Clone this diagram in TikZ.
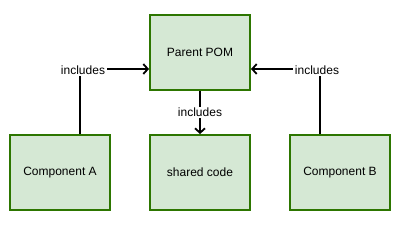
\documentclass[tikz,border=0pt]{standalone}
\usepackage{fontspec}
\setmainfont{Liberation Sans}
\usepackage{xcolor}
\usetikzlibrary{arrows.meta, positioning}
\definecolor{boxfill}{HTML}{D5E8D4}
\definecolor{boxline}{HTML}{2D7600}

\begin{document}
\begin{tikzpicture}[x=1pt, y=-1pt, >={Straight Barb[length=4.5pt,width=10pt,line width=1.8pt]},
    box/.style={draw=boxline, line width=2pt, fill=boxfill, minimum width=100pt, minimum height=75pt, font=\fontsize{12}{14}\selectfont},
    conn/.style={line width=2pt},
    lbl/.style={fill=white, inner sep=1.5pt, font=\fontsize{12}{14}\selectfont}]
    \useasboundingbox (0,0) rectangle (410,230);
    % Boxes
    \node[box] (pom) at (200, 52.5) {Parent POM};
    \node[box] (shared) at (200, 172.5) {shared code};
    \node[box] (compA) at (60, 172.5) {Component A};
    \node[box] (compB) at (340, 172.5) {Component B};

    % Edges
    \draw[conn, ->] ([xshift=20pt]compA.north) |- ([yshift=-16.5pt]pom.west);
    \node[lbl] (lblA) at (83, 70) {includes};
    \draw[conn, ->] ([xshift=-20pt]compB.north) |- ([yshift=-16.5pt]pom.east);
    \node[lbl] (lblB) at (317, 70) {includes};
    \draw[conn, ->] (pom.south) -- (shared.north) node[lbl, midway] {includes};
\end{tikzpicture}
\end{document}
